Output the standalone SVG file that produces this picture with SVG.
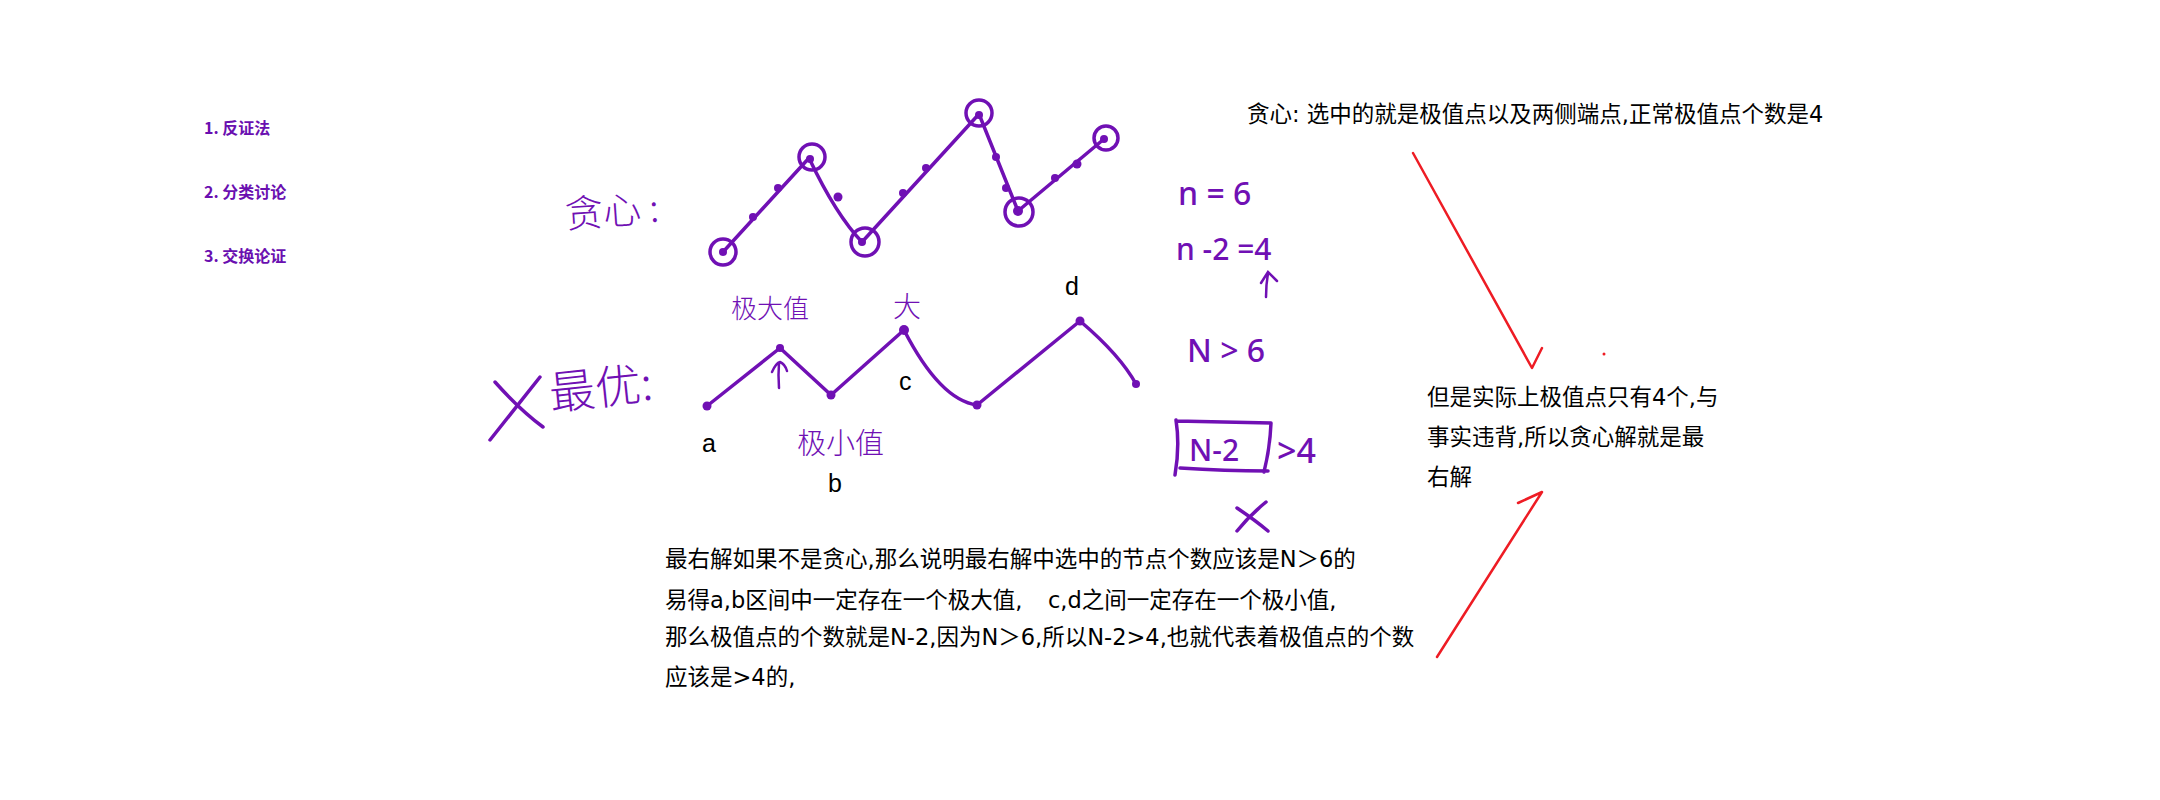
<svg xmlns="http://www.w3.org/2000/svg" width="2160" height="800" viewBox="0 0 2160 800">
<style>
.list{font-family:"Noto Sans CJK SC","Noto Sans",sans-serif;font-weight:700;font-size:16px;fill:#6a0fb0}
.hw{font-family:"Noto Sans CJK SC","Noto Sans",sans-serif;font-weight:300;fill:#7010b4}
.num{font-family:"Noto Sans","Noto Sans CJK SC",sans-serif;font-weight:500;fill:#7010b4}
.pen{fill:none;stroke:#7010b4;stroke-width:3.5;stroke-linecap:round;stroke-linejoin:round}
.thin{fill:none;stroke:#7010b4;stroke-width:2.5;stroke-linecap:round}
.dot{fill:#7010b4}
.txt{font-family:"DejaVu Sans","Noto Sans CJK SC",sans-serif;font-size:22.5px;fill:#000}
.lbl{font-family:"Liberation Sans","Noto Sans",sans-serif;font-size:25px;fill:#000}
.red{fill:none;stroke:#ee1c24;stroke-width:2.5;stroke-linecap:round;stroke-linejoin:round}
</style>
<rect width="2160" height="800" fill="#fff"/>

<g id="list">
<text class="list" x="204" y="134">1. 反证法</text>
<text class="list" x="204" y="198">2. 分类讨论</text>
<text class="list" x="204" y="262">3. 交换论证</text>
</g>

<g id="greedy-label">
<text class="hw" x="566" y="228" font-size="38" transform="rotate(-4 566 228)">贪心 :</text>
</g>

<g id="greedy-chain">
<path class="pen" d="M723,252 L809,158 Q836,215 862,242 L979,114 L1018,211 L1104,139"/>
<circle class="pen" cx="723" cy="252" r="13"/>
<circle class="pen" cx="812" cy="157" r="13"/>
<circle class="pen" cx="865" cy="242" r="14"/>
<circle class="pen" cx="979" cy="113" r="13"/>
<circle class="pen" cx="1019" cy="212" r="14"/>
<circle class="pen" cx="1106" cy="138" r="12"/>
<circle class="dot" cx="723" cy="252" r="4"/>
<circle class="dot" cx="753" cy="217" r="4"/>
<circle class="dot" cx="778" cy="188" r="4"/>
<circle class="dot" cx="810" cy="159" r="4"/>
<circle class="dot" cx="838" cy="197" r="4.5"/>
<circle class="dot" cx="862" cy="242" r="4"/>
<circle class="dot" cx="903" cy="193" r="4"/>
<circle class="dot" cx="926" cy="168" r="4"/>
<circle class="dot" cx="979" cy="115" r="4"/>
<circle class="dot" cx="996" cy="157" r="4"/>
<circle class="dot" cx="1006" cy="188" r="4"/>
<circle class="dot" cx="1018" cy="211" r="5"/>
<circle class="dot" cx="1055" cy="178" r="4"/>
<circle class="dot" cx="1077" cy="164" r="4.5"/>
<circle class="dot" cx="1104" cy="139" r="4"/>
</g>

<g id="optimal-label">
<path class="pen" d="M490,440 L540,377"/>
<path class="pen" d="M495,382 Q520,410 543,427"/>
<text class="hw" x="551" y="410" font-size="46" transform="rotate(-6 551 410)">最优:</text>
</g>

<g id="optimal-chain">
<path class="pen" d="M707,406 L780,348 L831,395 L904,330 Q940,400 977,405 L1080,321 Q1120,355 1136,384"/>
<circle class="dot" cx="707" cy="406" r="4.5"/>
<circle class="dot" cx="780" cy="348" r="4"/>
<circle class="dot" cx="831" cy="395" r="4.5"/>
<circle class="dot" cx="904" cy="330" r="5"/>
<circle class="dot" cx="977" cy="405" r="4.5"/>
<circle class="dot" cx="1080" cy="321" r="4.5"/>
<circle class="dot" cx="1136" cy="384" r="4"/>
<text class="hw" x="731" y="318" font-size="26">极大值</text>
<text class="hw" x="893" y="317" font-size="28">大</text>
<text class="hw" x="797" y="454" font-size="29">极小值</text>
<text class="lbl" x="702" y="452">a</text>
<text class="lbl" x="828" y="492">b</text>
<text class="lbl" x="899" y="390">c</text>
<text class="lbl" x="1065" y="295">d</text>
</g>

<g id="right-calc">
<text class="num" x="1178" y="205" font-size="32">n = 6</text>
<text class="num" x="1176" y="260" font-size="30">n -2 =4</text>
<text class="num" x="1187" y="362" font-size="32">N &gt; 6</text>
<path class="pen" d="M1176,420 Q1180,446 1175,475 M1176,421 L1271,423 Q1270,448 1264,472 M1180,468 Q1225,471 1268,471"/>
<text class="num" x="1189" y="461" font-size="30">N-2</text>
<text class="num" x="1277" y="463" font-size="34">&gt;4</text>
<path class="pen" d="M1237,508 Q1255,520 1268,531 M1237,531 Q1250,515 1266,502"/>
</g>

<g id="greedy-text">
<text class="txt" x="1247" y="122">贪心: 选中的就是极值点以及两侧端点,正常极值点个数是4</text>
</g>

<g id="conclusion">
<text class="txt" x="1427" y="405">但是实际上极值点只有4个,与</text>
<text class="txt" x="1427" y="445">事实违背,所以贪心解就是最</text>
<text class="txt" x="1427" y="485">右解</text>
</g>

<g id="proof">
<text class="txt" x="665" y="567">最右解如果不是贪心,那么说明最右解中选中的节点个数应该是N＞6的</text>
<text class="txt" x="665" y="608">易得a,b区间中一定存在一个极大值,</text>
<text class="txt" x="1048" y="608">c,d之间一定存在一个极小值,</text>
<text class="txt" x="665" y="645">那么极值点的个数就是N-2,因为N＞6,所以N-2&gt;4,也就代表着极值点的个数</text>
<text class="txt" x="665" y="685">应该是&gt;4的,</text>
</g>

<g id="connectors">
<path class="thin" d="M779,388 Q778,375 779,363 M772,372 Q776,363 780,362 Q785,364 787,371"/>
<path class="thin" d="M1266,297 Q1266,285 1268,273 M1261,283 L1268,272 L1277,281"/>
<path class="red" d="M1413,153 L1532,368 L1542,348"/>
<path class="red" d="M1437,657 L1542,492 L1518,503"/>
<circle cx="1604" cy="354" r="1.5" fill="#ee1c24"/>
</g>
</svg>
